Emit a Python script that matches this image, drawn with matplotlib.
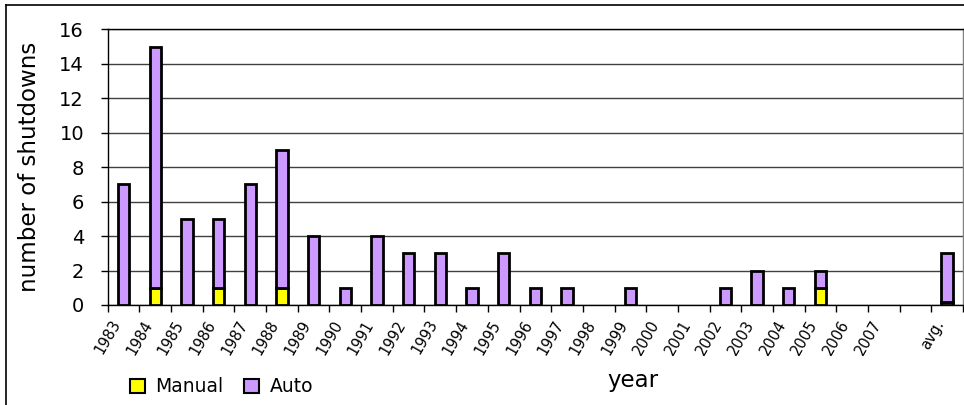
import numpy as np
import matplotlib
matplotlib.use('Agg')
import matplotlib.pyplot as plt
from matplotlib.patches import Patch
from matplotlib.lines import Line2D

# category labels (blank slot before the average)
years = ['1983', '1984', '1985', '1986', '1987', '1988', '1989', '1990', '1991',
         '1992', '1993', '1994', '1995', '1996', '1997', '1998', '1999', '2000',
         '2001', '2002', '2003', '2004', '2005', '2006', '2007', '', 'avg.']

manual = [0, 1, 0, 1, 0, 1, 0, 0, 0, 0, 0, 0, 0, 0, 0, 0, 0, 0, 0, 0, 0, 0, 1, 0, 0, 0, 0.16]
auto = [7, 14, 5, 4, 7, 8, 4, 1, 4, 3, 3, 1, 3, 1, 1, 0, 1, 0, 0, 1, 2, 1, 1, 0, 0, 0, 2.88]

yticks = [0, 2, 4, 6, 8, 10, 12, 14, 16]

plt.rcParams['font.family'] = ['DejaVu Sans']

W, H = 964, 405
fig = plt.figure(figsize=(W / 100, H / 100), dpi=100)
ax = fig.add_axes([107.7 / W, 1 - 305 / H, (963 - 107.7) / W, (305 - 29.3) / H])

x = np.arange(len(years))
manual = np.array(manual)
auto = np.array(auto)
bw = 0.36
for i in x:
    if manual[i] > 0:
        ax.bar(i, manual[i], bw, color='#FFFF00', edgecolor='black', linewidth=2, zorder=3)
    if auto[i] > 0:
        ax.bar(i, auto[i], bw, bottom=manual[i], color='#CC99FF', edgecolor='black',
               linewidth=2, zorder=3)

ax.set_xlim(-0.5, len(years) - 0.5)
ax.set_ylim(0, 16)
ax.set_yticks(yticks)
ax.set_yticklabels([str(v) for v in yticks], fontsize=14)
ax.yaxis.grid(True, color='#404040', linewidth=1, zorder=0)
ax.set_axisbelow(True)

# ticks between categories, labels in the middle
ax.set_xticks(np.arange(len(years) + 1) - 0.5)
ax.set_xticklabels([])
ax.set_xticks(x, minor=True)
ax.set_xticklabels(years, minor=True, rotation=60, ha='right', fontsize=10.5)
ax.tick_params(axis='x', which='minor', length=0, pad=9)
ax.tick_params(axis='x', which='major', length=5, width=1, direction='out')
ax.tick_params(axis='y', length=5, width=1, direction='out', pad=12)

for s in ['left', 'bottom', 'top']:
    ax.spines[s].set_color('black')
    ax.spines[s].set_linewidth(1)
ax.spines['right'].set_color('#808080')
ax.spines['right'].set_linewidth(1)

fig.text(30 / W, 1 - 167 / H, 'number of shutdowns', rotation=90, ha='center',
         va='center', fontsize=16.5)
fig.text(633 / W, 1 - 381 / H, 'year', ha='center', va='center', fontsize=16.5)

handles = [Patch(facecolor='#FFFF00', edgecolor='black', linewidth=1.5),
           Patch(facecolor='#CC99FF', edgecolor='black', linewidth=1.5)]
fig.legend(handles, ['Manual', 'Auto'], loc='center left',
           bbox_to_anchor=(130 / W, 1 - 387 / H), ncol=2, frameon=False,
           fontsize=13.5, handlelength=0.8, handleheight=0.8, handletextpad=0.55,
           columnspacing=1.1, borderpad=0, borderaxespad=0)

# outer chart frame (cropped on the right and bottom)
fig.add_artist(Line2D([6 / W, 6 / W], [0, 1 - 5 / H], color='black', linewidth=1.2))
fig.add_artist(Line2D([6 / W, 1], [1 - 5 / H, 1 - 5 / H], color='black', linewidth=1.2))

fig.savefig('out.png', dpi=100)
